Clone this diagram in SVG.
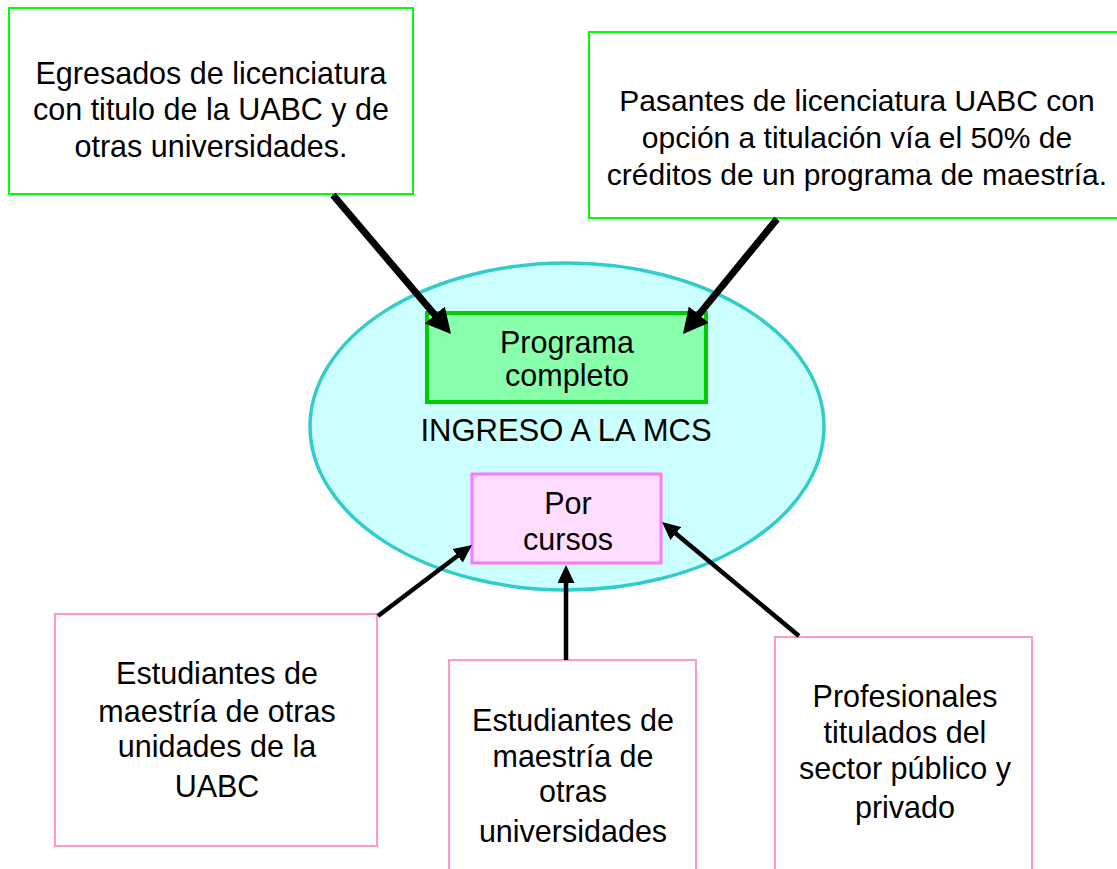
<svg xmlns="http://www.w3.org/2000/svg" width="1117" height="869" viewBox="0 0 1117 869">
<style>
  text { font-family: "Liberation Sans", Arial, sans-serif; font-size: 30.5px; fill: #000; text-anchor: middle; }
  .top { fill: #fff; stroke: #00ff00; stroke-width: 2; }
  .bot { fill: #fff; stroke: #ff99cc; stroke-width: 2; }
  .thick { stroke: #000; stroke-width: 7; fill: none; marker-end: url(#headL); }
  .thin { stroke: #000; stroke-width: 4.5; fill: none; marker-end: url(#headS); }
</style>
<defs>
  <marker id="headL" markerUnits="userSpaceOnUse" viewBox="0 0 25 26" markerWidth="25" markerHeight="26" refX="10" refY="13" orient="auto">
    <path d="M0,0 L25,13 L0,26 z" fill="#000"/>
  </marker>
  <marker id="headS" markerUnits="userSpaceOnUse" viewBox="0 0 18 17" markerWidth="18" markerHeight="17" refX="8" refY="8.5" orient="auto">
    <path d="M0,0 L18,8.5 L0,17 z" fill="#000"/>
  </marker>
</defs>
<rect width="1117" height="869" fill="#fff"/>

<g id="ingreso">
  <ellipse cx="567" cy="426.5" rx="257" ry="163.5" fill="#ccffff" stroke="#33cccc" stroke-width="3.5"/>
  <text x="566" y="441" style="font-size:31px">INGRESO A LA MCS</text>
</g>

<g id="programa">
  <rect x="427" y="313" width="279" height="89" fill="#88ffaa" stroke="#00cc00" stroke-width="4"/>
  <text x="567" y="353">Programa</text>
  <text x="567" y="386">completo</text>
</g>

<g id="cursos">
  <rect x="472" y="474" width="189" height="89" fill="#ffddff" stroke="#ff77ff" stroke-width="3"/>
  <text x="568" y="514">Por</text>
  <text x="568" y="550">cursos</text>
</g>

<g id="egresados">
  <rect class="top" x="9" y="8" width="404" height="186"/>
  <text x="211" y="84">Egresados de licenciatura</text>
  <text x="211" y="120">con titulo de la UABC y de</text>
  <text x="211" y="157">otras universidades.</text>
</g>

<g id="pasantes">
  <rect class="top" x="589" y="32" width="536" height="186"/>
  <text x="857" y="111" style="font-size:30px">Pasantes de licenciatura UABC con</text>
  <text x="857" y="148" style="font-size:30px">opción a titulación vía el 50% de</text>
  <text x="857" y="185" style="font-size:30px">créditos de un programa de maestría.</text>
</g>

<g id="est-uabc">
  <rect class="bot" x="55" y="614" width="322" height="232"/>
  <text x="217" y="684">Estudiantes de</text>
  <text x="217" y="722">maestría de otras</text>
  <text x="217" y="757">unidades de la</text>
  <text x="217" y="797">UABC</text>
</g>

<g id="est-otras">
  <rect class="bot" x="449" y="660" width="247" height="220"/>
  <text x="573" y="731">Estudiantes de</text>
  <text x="573" y="767">maestría de</text>
  <text x="573" y="802">otras</text>
  <text x="573" y="842">universidades</text>
</g>

<g id="profesionales">
  <rect class="bot" x="775" y="637" width="257" height="243"/>
  <text x="905" y="707">Profesionales</text>
  <text x="905" y="743">titulados del</text>
  <text x="905" y="779">sector público y</text>
  <text x="905" y="818">privado</text>
</g>

<g id="connectors">
  <line class="thick" x1="333" y1="195" x2="441.3" y2="322.6"/>
  <line class="thick" x1="777" y1="219" x2="692.5" y2="322.4"/>
  <line class="thin" x1="378" y1="616" x2="464" y2="551"/>
  <line class="thin" x1="566" y1="660" x2="566" y2="575"/>
  <line class="thin" x1="799" y1="636" x2="669.7" y2="528.4"/>
</g>
</svg>
